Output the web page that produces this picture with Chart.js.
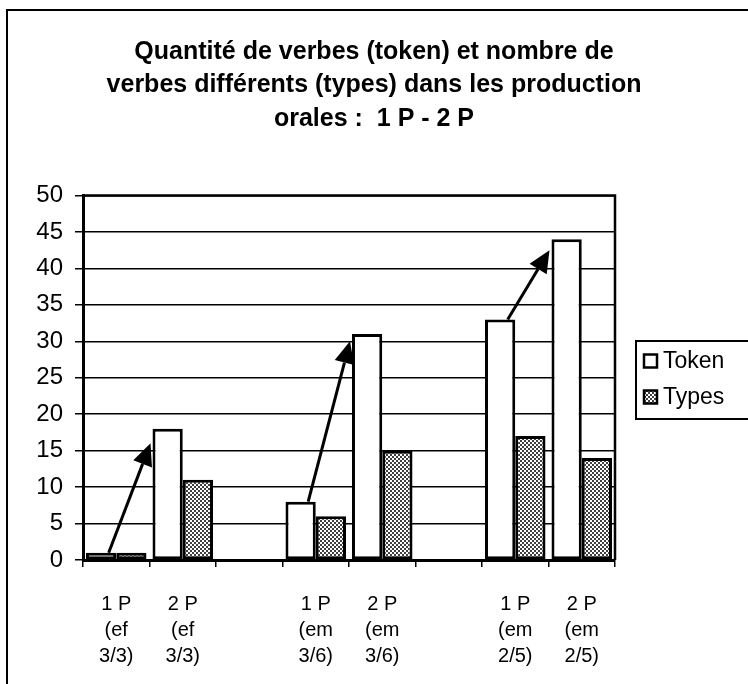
<!DOCTYPE html>
<html>
<head>
<meta charset="utf-8">
<script src="https://cdn.jsdelivr.net/npm/chart.js@4/dist/chart.umd.min.js"></script>
<style>
  html, body { margin: 0; padding: 0; background: #fff; }
  #wrap { width: 748px; height: 684px; }
</style>
</head>
<body>
<div id="wrap"><canvas id="c" width="748" height="684"></canvas></div>
<script>
// ---- data ----
const titleLines = ["Quantité de verbes (token) et nombre de", "verbes différents (types) dans les production", "orales :  1 P - 2 P"];
const categories = [["1 P", "(ef", "3/3)"], ["2 P", "(ef", "3/3)"], "", ["1 P", "(em", "3/6)"], ["2 P", "(em", "3/6)"], "", ["1 P", "(em", "2/5)"], ["2 P", "(em", "2/5)"]];
const seriesNames = ["Token", "Types"];
const tokenValues = [1, 18, null, 8, 31, null, 33, 44];
const typesValues = [1, 11, null, 6, 15, null, 17, 14];
const yMin = 0, yMax = 50, yStep = 5;
// arrows: from token bar of category arrowFrom[i] to token bar of arrowTo[i], ending at arrowEndValues[i]
const arrowFrom = [0, 3, 6];
const arrowTo = [1, 4, 7];
const arrowEndValues = [16, 30, 42.5];

const FONT = "'Liberation Sans', Arial, sans-serif";

function makeStipple() {
  const p = document.createElement('canvas');
  p.width = 4; p.height = 4;
  const g = p.getContext('2d');
  g.fillStyle = '#ffffff';
  g.fillRect(0, 0, 4, 4);
  g.fillStyle = '#000000';
  g.beginPath(); g.arc(1, 1, 1.0, 0, Math.PI * 2); g.fill();
  g.beginPath(); g.arc(3, 3, 1.0, 0, Math.PI * 2); g.fill();
  return document.getElementById('c').getContext('2d').createPattern(p, 'repeat');
}
const stipple = makeStipple();

const decor = {
  id: 'decor',
  beforeDraw(chart) {
    const ctx = chart.ctx;
    ctx.save();
    ctx.fillStyle = '#fff';
    ctx.fillRect(0, 0, chart.width, chart.height);
    ctx.strokeStyle = '#000';
    ctx.lineWidth = 2;
    ctx.beginPath();
    ctx.moveTo(7, chart.height);
    ctx.lineTo(7, 10);
    ctx.lineTo(chart.width, 10);
    ctx.stroke();
    ctx.restore();
  },
  afterDatasetsDraw(chart) {
    const ctx = chart.ctx;
    const meta = chart.getDatasetMeta(0);
    const y = chart.scales.y;
    ctx.save();
    ctx.strokeStyle = '#000';
    ctx.fillStyle = '#000';
    ctx.lineWidth = 3;
    for (let i = 0; i < arrowFrom.length; i++) {
      const a = meta.data[arrowFrom[i]];
      const b = meta.data[arrowTo[i]];
      const x1 = a.x + a.width * 0.25;
      const y1 = y.getPixelForValue(tokenValues[arrowFrom[i]]);
      const x2 = b.x - b.width / 2 - 2;
      const y2 = y.getPixelForValue(arrowEndValues[i]);
      const ang = Math.atan2(y2 - y1, x2 - x1);
      const L = 22, W = 10;
      const bx = x2 - L * Math.cos(ang), by = y2 - L * Math.sin(ang);
      ctx.beginPath();
      ctx.moveTo(x1, y1);
      ctx.lineTo(bx, by);
      ctx.stroke();
      ctx.beginPath();
      ctx.moveTo(x2, y2);
      ctx.lineTo(bx + W * Math.sin(ang), by - W * Math.cos(ang));
      ctx.lineTo(bx - W * Math.sin(ang), by + W * Math.cos(ang));
      ctx.closePath();
      ctx.fill();
    }
    ctx.restore();
  },
  afterDraw(chart) {
    const ctx = chart.ctx;
    const ca = chart.chartArea;
    ctx.save();
    ctx.strokeStyle = '#000';
    ctx.lineWidth = 2.5;
    ctx.beginPath();
    ctx.moveTo(ca.left, ca.top);
    ctx.lineTo(ca.right, ca.top);
    ctx.lineTo(ca.right, ca.bottom);
    ctx.stroke();
    // legend
    const lx = ca.right + 21, ly = 341;
    ctx.lineWidth = 2;
    ctx.strokeRect(lx, ly, 140, 78);
    ctx.font = "23px " + FONT;
    ctx.textBaseline = 'middle';
    ctx.textAlign = 'left';
    chart.data.datasets.forEach((ds, i) => {
      const cy = 361 + i * 36;
      ctx.fillStyle = ds.backgroundColor;
      ctx.fillRect(lx + 8, cy - 6.5, 13, 13);
      ctx.lineWidth = 2.5;
      ctx.strokeRect(lx + 8, cy - 6.5, 13, 13);
      ctx.fillStyle = '#000';
      ctx.fillText(ds.label, lx + 27, cy + 1);
    });
    ctx.restore();
  }
};

new Chart(document.getElementById('c'), {
  type: 'bar',
  data: {
    labels: categories,
    datasets: [
      { label: seriesNames[0], data: tokenValues, backgroundColor: '#ffffff', borderColor: '#000', borderWidth: 3, borderSkipped: false },
      { label: seriesNames[1], data: typesValues, backgroundColor: stipple, borderColor: '#000', borderWidth: 3, borderSkipped: false }
    ]
  },
  options: {
    responsive: false,
    devicePixelRatio: 1,
    animation: false,
    layout: { padding: 0 },
    datasets: { bar: { categoryPercentage: 0.91, barPercentage: 1.0 } },
    plugins: {
      legend: { display: false },
      tooltip: { enabled: false },
      title: {
        display: true,
        text: titleLines,
        color: '#000',
        font: { family: FONT, size: 25, weight: 'bold', lineHeight: 1.34 },
        padding: { top: 35, bottom: 60 }
      }
    },
    scales: {
      x: {
        offset: true,
        afterFit(scale) { scale.height = 124; },
        grid: { offset: true, drawOnChartArea: false, drawTicks: true, tickLength: 7, color: '#000', lineWidth: 1.5 },
        border: { display: true, color: '#000', width: 3 },
        ticks: { color: '#000', font: { family: FONT, size: 20, lineHeight: 1.3 }, padding: 24, maxRotation: 0, autoSkip: false }
      },
      y: {
        min: yMin, max: yMax,
        afterFit(scale) { scale.width = 83; },
        grid: { color: '#000', lineWidth: 1.5, tickLength: 8 },
        border: { display: true, color: '#000', width: 3 },
        ticks: { stepSize: yStep, color: '#000', font: { family: FONT, size: 24 }, padding: 12 }
      },
      legendSpace: {
        type: 'linear',
        position: 'right',
        display: true,
        afterFit(scale) { scale.width = 133; },
        grid: { display: false, drawOnChartArea: false },
        border: { display: false },
        ticks: { display: false }
      }
    }
  },
  plugins: [decor]
});
</script>
</body>
</html>
